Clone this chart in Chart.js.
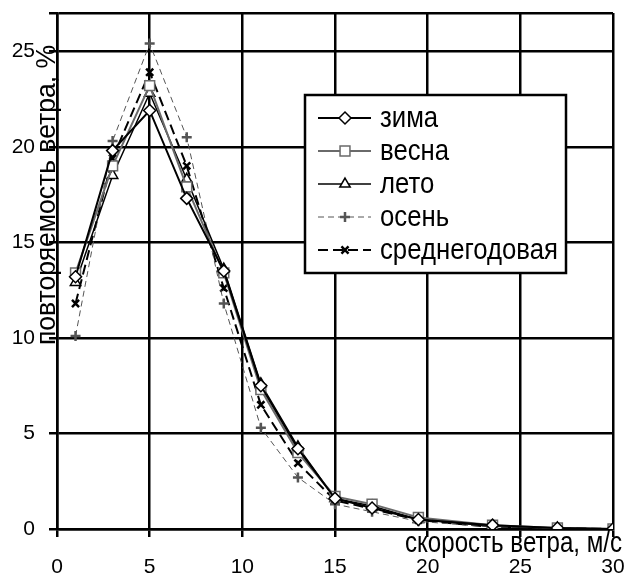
<!DOCTYPE html>
<html>
<head>
<meta charset="utf-8">
<script src="https://cdn.jsdelivr.net/npm/chart.js@4"></script>
<style>
  html, body { margin: 0; padding: 0; background: #fff; }
  #wrap { width: 625px; height: 577px; }
</style>
</head>
<body>
<div id="wrap"><canvas id="chartWind" width="625" height="577"></canvas></div>
<script>
// wind speed bins, m/s
const speeds = [1, 3, 5, 7, 9, 11, 13, 15, 17, 19.5, 23.5, 27, 30];

// frequency, %
const zima   = [13.2, 19.8, 21.9, 17.3, 13.5, 7.5, 4.2, 1.6, 1.1, 0.5, 0.2, 0.05, 0];
const vesna  = [13.4, 19.0, 23.2, 17.9, 13.4, 7.3, 4.0, 1.7, 1.3, 0.6, 0.2, 0.05, 0];
const leto   = [12.9, 18.5, 22.8, 18.3, 13.6, 7.6, 4.3, 1.6, 1.2, 0.5, 0.15, 0.05, 0];
const osen   = [10.1, 20.3, 25.4, 20.5, 11.8, 5.3, 2.7, 1.3, 0.9, 0.4, 0.1, 0.05, 0];
const srednee = [11.8, 19.4, 23.9, 19.0, 12.6, 6.5, 3.45, 1.5, 1.05, 0.47, 0.1, 0.05, 0];

const seriesNames = ['зима', 'весна', 'лето', 'осень', 'среднегодовая'];
const xTicks = [0, 5, 10, 15, 20, 25, 30];
const yTicks = [0, 5, 10, 15, 20, 25];
const yMax = 27;

const xTitle = 'скорость ветра, м/с';
const yTitle = 'повторяемость ветра, %';

const FONT = "'Liberation Sans', Arial, sans-serif";

function pts(arr) {
    return speeds.map((s, i) => ({ x: s, y: arr[i] }));
}

const styles = [
    { borderColor: '#000', borderWidth: 2, borderDash: [], pointStyle: 'rectRot', pointRadius: 6 },
    { borderColor: '#6a6a6a', borderWidth: 2, borderDash: [], pointStyle: 'rect', pointRadius: 7 },
    { borderColor: '#000', borderWidth: 1.5, borderDash: [], pointStyle: 'triangle', pointRadius: 6 },
    { borderColor: '#555', borderWidth: 1, borderDash: [6, 4], pointStyle: 'cross', pointRadius: 5 },
    { borderColor: '#000', borderWidth: 2, borderDash: [10, 5], pointStyle: 'crossRot', pointRadius: 5 }
];

const values = [zima, vesna, leto, osen, srednee];

const datasets = values.map((arr, i) => ({
    label: seriesNames[i],
    data: pts(arr),
    borderColor: styles[i].borderColor,
    borderWidth: styles[i].borderWidth,
    borderDash: styles[i].borderDash,
    pointStyle: styles[i].pointStyle,
    pointRadius: styles[i].pointRadius,
    pointBorderColor: styles[i].borderColor,
    pointBorderWidth: i >= 3 ? 2.5 : 1.5,
    pointBackgroundColor: '#fff',
    tension: 0,
    fill: false
}));

// condensed text: squeeze horizontally so the string fits the given width
function squeezedText(ctx, text, x, y, width) {
    const w = ctx.measureText(text).width;
    ctx.save();
    ctx.translate(x, y);
    ctx.scale(width / w, 1);
    ctx.fillText(text, 0, 0);
    ctx.restore();
}

// titles + legend box drawn inside the plot, like the original
const overlay = {
    id: 'overlay',
    afterDraw(chart) {
        const ctx = chart.ctx;
        ctx.save();
        ctx.fillStyle = '#000';
        ctx.textAlign = 'left';
        ctx.textBaseline = 'alphabetic';

        // y title, rotated, sitting on the axis
        ctx.save();
        ctx.font = '27px ' + FONT;
        ctx.translate(55, 345);
        ctx.rotate(-Math.PI / 2);
        squeezedText(ctx, yTitle, 0, 0, 300);
        ctx.restore();

        // x title
        ctx.font = '29px ' + FONT;
        squeezedText(ctx, xTitle, 405, 552, 217);

        // legend
        const bx = 305, by = 95, bw = 261, bh = 178;
        ctx.fillStyle = '#fff';
        ctx.fillRect(bx, by, bw, bh);
        ctx.strokeStyle = '#000';
        ctx.lineWidth = 2.5;
        ctx.strokeRect(bx, by, bw, bh);

        ctx.font = '30px ' + FONT;
        const squeeze = 178 / ctx.measureText('среднегодовая').width;

        chart.data.datasets.forEach((ds, i) => {
            const y = 118 + i * 33;
            ctx.save();
            ctx.strokeStyle = ds.borderColor;
            ctx.lineWidth = ds.borderWidth;
            ctx.setLineDash(ds.borderDash);
            ctx.beginPath();
            ctx.moveTo(318, y);
            ctx.lineTo(371, y);
            ctx.stroke();
            ctx.setLineDash([]);
            ctx.fillStyle = '#fff';
            ctx.strokeStyle = ds.pointBorderColor;
            ctx.lineWidth = ds.pointBorderWidth;
            Chart.helpers.drawPoint(ctx, {
                pointStyle: ds.pointStyle,
                radius: ds.pointRadius,
                rotation: 0,
                borderWidth: ds.pointBorderWidth
            }, 345, y);
            ctx.restore();

            ctx.fillStyle = '#000';
            ctx.textBaseline = 'middle';
            const w = ctx.measureText(ds.label).width * squeeze;
            squeezedText(ctx, ds.label, 380, y + 1, w);
        });
        ctx.restore();
    }
};

new Chart(document.getElementById('chartWind'), {
    type: 'line',
    data: { datasets },
    options: {
        responsive: false,
        animation: false,
        layout: { padding: { top: 13, right: 12, left: 0, bottom: 0 } },
        plugins: { legend: { display: false }, tooltip: { enabled: false } },
        scales: {
            x: {
                type: 'linear',
                min: 0,
                max: 30,
                afterBuildTicks: (scale) => { scale.ticks = xTicks.map(v => ({ value: v })); },
                afterFit: (scale) => {
                    scale.height = 48;
                    scale.paddingLeft = 0;
                    scale.paddingRight = 0;
                },
                ticks: { color: '#000', font: { family: FONT, size: 21 }, padding: 18, maxRotation: 0 },
                grid: { color: '#000', lineWidth: 2.5, tickLength: 8 },
                border: { color: '#000', width: 2.5 }
            },
            y: {
                min: 0,
                max: yMax,
                afterBuildTicks: (scale) => { scale.ticks = yTicks.concat([yMax]).map(v => ({ value: v })); },
                afterFit: (scale) => {
                    scale.width = 57;
                    scale.paddingTop = 0;
                    scale.paddingBottom = 0;
                },
                ticks: {
                    color: '#000',
                    font: { family: FONT, size: 21 },
                    padding: 14,
                    callback: (v) => (yTicks.includes(v) ? v : '')
                },
                grid: { color: '#000', lineWidth: 2.5, tickLength: 8 },
                border: { color: '#000', width: 2.5 }
            }
        }
    },
    plugins: [overlay]
});
</script>
</body>
</html>
